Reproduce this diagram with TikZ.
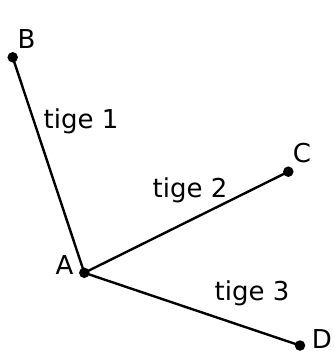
\documentclass[tikz,border=0pt]{standalone}
\usepackage{fontspec}
\setmainfont{DejaVu Sans}
\begin{document}
\begin{tikzpicture}[x=1pt,y=-1pt,
  lbl/.style={inner sep=0pt,font=\fontsize{26}{31}\selectfont},
  dot/.style={circle,fill=black,inner sep=0pt,minimum size=10.5pt},
  tige/.style={line width=2.4pt}]
\useasboundingbox (0,0) rectangle (334,351);
\node[dot] (A) at (84.3,272.8) {};
\node[dot] (B) at (12.7,57.3) {};
\node[dot] (C) at (288.3,171.7) {};
\node[dot] (D) at (300,345.5) {};
\draw[tige] (A.center) -- (B.center);
\draw[tige] (A.center) -- (C.center);
\draw[tige] (A.center) -- (D.center);
\node[lbl] (lB) at (26.5,39.5) {B};
\node[lbl] (lA) at (64.5,265) {A};
\node[lbl] (lC) at (302,153) {C};
\node[lbl] (lD) at (322,339.5) {D};
\node[lbl] (t1) at (81,121) {tige 1};
\node[lbl] (t2) at (190,190) {tige 2};
\node[lbl] (t3) at (252,293) {tige 3};
\end{tikzpicture}
\end{document}
